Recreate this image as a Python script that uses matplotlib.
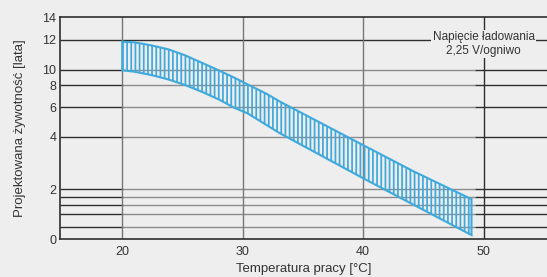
import matplotlib
matplotlib.use("Agg")
import matplotlib.pyplot as plt
import numpy as np

plt.rcParams['font.family'] = ['Liberation Sans', 'DejaVu Sans']
plt.rcParams['font.size'] = 9
plt.rcParams['hatch.linewidth'] = 1.25

# y axis of the original is not linear: value -> height in px above the x axis
scale_vals = [0, 0.5, 1.0, 1.35, 1.7, 2, 4, 6, 8, 10, 12, 14]
scale_px = [0, 12.3, 24.7, 33.7, 42.3, 49.7, 102.3, 131.7, 153.8, 169.5, 199.5, 221.7]

yticks = [0, 2, 4, 6, 8, 10, 12, 14]
minor_lines = [0.5, 1.0, 1.35, 1.7]
xticks = [20, 30, 40, 50]

# band: upper and lower edge of projected life
temp_up = [20, 21.0, 22.4, 23.8, 25.2, 26.6, 28.0, 29.3, 30.4, 31.9, 33.1, 40, 44.2, 49]
life_up = [11.85, 11.81, 11.61, 11.35, 10.95, 10.45, 9.90, 8.96, 8.11, 7.27, 6.51, 3.68, 2.68, 1.60]
temp_lo = [20, 21.0, 22.4, 23.8, 25.2, 26.6, 28.0, 29.3, 30.4, 33.1, 40, 44.2, 49]
life_lo = [9.90, 9.72, 9.30, 8.75, 8.03, 7.41, 6.72, 5.97, 5.59, 4.23, 2.42, 1.37, 0.16]

bg = '#eeeeee'
dark = '#2e2e2e'
grey = '#8c8c8c'
blue = '#3fa9dc'
txt = '#333333'


def fwd(v):
    return np.interp(v, scale_vals, scale_px)


def inv(p):
    return np.interp(p, scale_px, scale_vals)


fig = plt.figure(figsize=(5.47, 2.77), dpi=100, facecolor=bg)
ax = fig.add_axes([60 / 547, 38 / 277, 487 / 547, 221.7 / 277])
ax.set_facecolor(bg)
ax.set_yscale('function', functions=(fwd, inv))
ax.set_ylim(0, 14)
ax.set_xlim(14.83, 55.27)

# grid lines, darker outside the band region
x0, x1 = ax.get_xlim()
for v in minor_lines + yticks[1:-1]:
    if v == 12:
        ax.hlines(v, x0, x1, color=dark, lw=1, zorder=1)
        continue
    ax.hlines(v, x0, 20, color=dark, lw=1, zorder=1)
    ax.hlines(v, 20, 49.25, color=grey, lw=1, zorder=1)
    ax.hlines(v, 49.25, x1, color=dark, lw=1, zorder=1)
for t in [20, 30, 40]:
    ax.axvline(t, color='#777777', lw=1, zorder=1)
ax.axvline(50, color=dark, lw=1, zorder=1)

# hatched band
bx = temp_up + temp_lo[::-1]
by = life_up + life_lo[::-1]
ax.fill(bx, by, facecolor='none', edgecolor=blue, hatch='||||', lw=1.5, zorder=3)

ax.annotate('Napięcie ładowania\n2,25 V/ogniwo', xy=(50, 12), xytext=(0, 6),
            textcoords='offset points', ha='center', va='top', color=txt,
            fontsize=8.5, multialignment='center', linespacing=1.15, zorder=4,
            bbox=dict(facecolor=bg, edgecolor='none', pad=1.0))

ax.set_yticks(yticks)
ax.set_yticklabels([str(t) for t in yticks])
ax.set_xticks(xticks)
ax.tick_params(axis='both', length=0, colors=txt)
ax.tick_params(axis='y', pad=2.5)
ax.tick_params(axis='x', pad=5)
ax.minorticks_off()

for s in ['left', 'bottom', 'top']:
    ax.spines[s].set_color(dark)
    ax.spines[s].set_linewidth(1.2)
ax.spines['right'].set_visible(False)

fig.text(20 / 547, 1 - 128 / 277, 'Projektowana żywotność [lata]', rotation=90,
         ha='center', va='center', color=txt, fontsize=9.5)
fig.text(304 / 547, 1 - 269 / 277, 'Temperatura pracy [°C]',
         ha='center', va='center', color=txt, fontsize=9.5)

fig.savefig('out.png', dpi=100, facecolor=bg)
